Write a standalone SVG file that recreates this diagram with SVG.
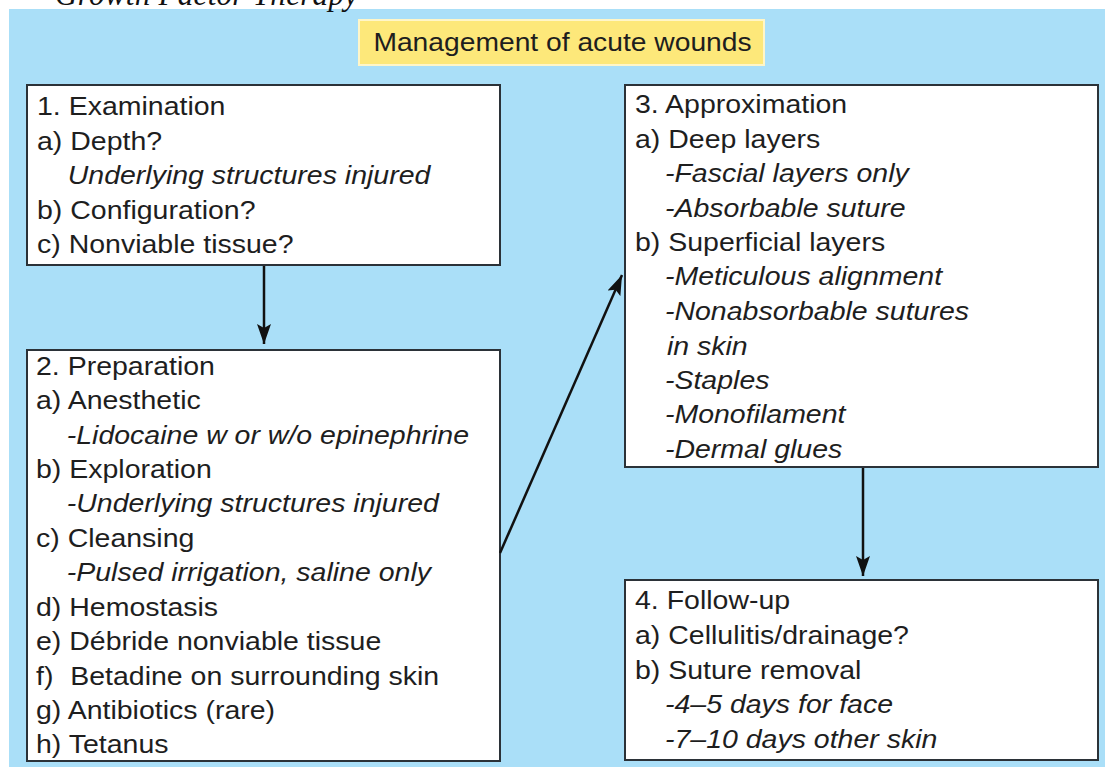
<svg xmlns="http://www.w3.org/2000/svg" width="1105" height="767" viewBox="0 0 1105 767">
<style>
.t{font-family:"Liberation Sans",Arial,sans-serif;font-size:25px;fill:#1e1e1e}
.i{font-style:italic}
.box{fill:#ffffff;stroke:#2b3238;stroke-width:2}
.conn{stroke:#111;stroke-width:2.5;fill:none}
</style>
<defs>
<marker id="ah" markerUnits="userSpaceOnUse" markerWidth="22" markerHeight="16" refX="20" refY="8" orient="auto">
<path d="M0,1 L20,8 L0,15 L4,8 z" fill="#111"/>
</marker>
</defs>
<rect x="0" y="0" width="1105" height="767" fill="#ffffff"/>
<rect x="9" y="9" width="1096" height="758" fill="#aadff8"/>
<text x="55" y="5" font-family="'Liberation Serif','Times New Roman',serif" font-style="italic" font-size="31" fill="#111" textLength="303">Growth Factor Therapy</text>

<g id="title">
<rect x="359" y="20" width="405" height="45" fill="#fde87a" stroke="#fff6c8" stroke-width="2"/>
<text class="t" transform="translate(562.5,0) scale(1.13,1)" x="0" y="51" text-anchor="middle">Management of acute wounds</text>
</g>

<g id="node1">
<rect class="box" x="27" y="85" width="473" height="180"/>
<g transform="translate(37,0) scale(1.14,1)">
<text class="t" x="0" y="115">1. Examination</text>
<text class="t" x="0" y="150">a) Depth?</text>
<text class="t i" x="27" y="184.5">Underlying structures injured</text>
<text class="t" x="0" y="219">b) Configuration?</text>
<text class="t" x="0" y="253.5">c) Nonviable tissue?</text>
</g>
</g>

<g id="node2">
<rect class="box" x="27" y="350" width="473" height="411"/>
<g transform="translate(36,0) scale(1.14,1)">
<text class="t" x="0" y="375">2. Preparation</text>
<text class="t" x="0" y="409">a) Anesthetic</text>
<text class="t i" x="27" y="444">-Lidocaine w or w/o epinephrine</text>
<text class="t" x="0" y="478">b) Exploration</text>
<text class="t i" x="27" y="512">-Underlying structures injured</text>
<text class="t" x="0" y="547">c) Cleansing</text>
<text class="t i" x="27" y="581">-Pulsed irrigation, saline only</text>
<text class="t" x="0" y="616">d) Hemostasis</text>
<text class="t" x="0" y="650">e) Débride nonviable tissue</text>
<text class="t" x="0" y="685">f)<tspan x="30">Betadine on surrounding skin</tspan></text>
<text class="t" x="0" y="719">g) Antibiotics (rare)</text>
<text class="t" x="0" y="753">h) Tetanus</text>
</g>
</g>

<g id="node3">
<rect class="box" x="625" y="85" width="473" height="382"/>
<g transform="translate(635,0) scale(1.14,1)">
<text class="t" x="0" y="113">3. Approximation</text>
<text class="t" x="0" y="148">a) Deep layers</text>
<text class="t i" x="26.3" y="182">-Fascial layers only</text>
<text class="t i" x="26.3" y="217">-Absorbable suture</text>
<text class="t" x="0" y="251">b) Superficial layers</text>
<text class="t i" x="26.3" y="285">-Meticulous alignment</text>
<text class="t i" x="26.3" y="320">-Nonabsorbable sutures</text>
<text class="t i" x="28" y="355">in skin</text>
<text class="t i" x="26.3" y="389">-Staples</text>
<text class="t i" x="26.3" y="423">-Monofilament</text>
<text class="t i" x="26.3" y="458">-Dermal glues</text>
</g>
</g>

<g id="node4">
<rect class="box" x="625" y="580" width="473" height="180"/>
<g transform="translate(635,0) scale(1.14,1)">
<text class="t" x="0" y="609">4. Follow-up</text>
<text class="t" x="0" y="644">a) Cellulitis/drainage?</text>
<text class="t" x="0" y="679">b) Suture removal</text>
<text class="t i" x="26.3" y="713">-4–5 days for face</text>
<text class="t i" x="26.3" y="748">-7–10 days other skin</text>
</g>
</g>

<g id="connectors">
<line class="conn" x1="264" y1="266" x2="264" y2="344" marker-end="url(#ah)"/>
<line class="conn" x1="500" y1="553" x2="622" y2="275" marker-end="url(#ah)"/>
<line class="conn" x1="863" y1="468" x2="863" y2="576" marker-end="url(#ah)"/>
</g>
</svg>
